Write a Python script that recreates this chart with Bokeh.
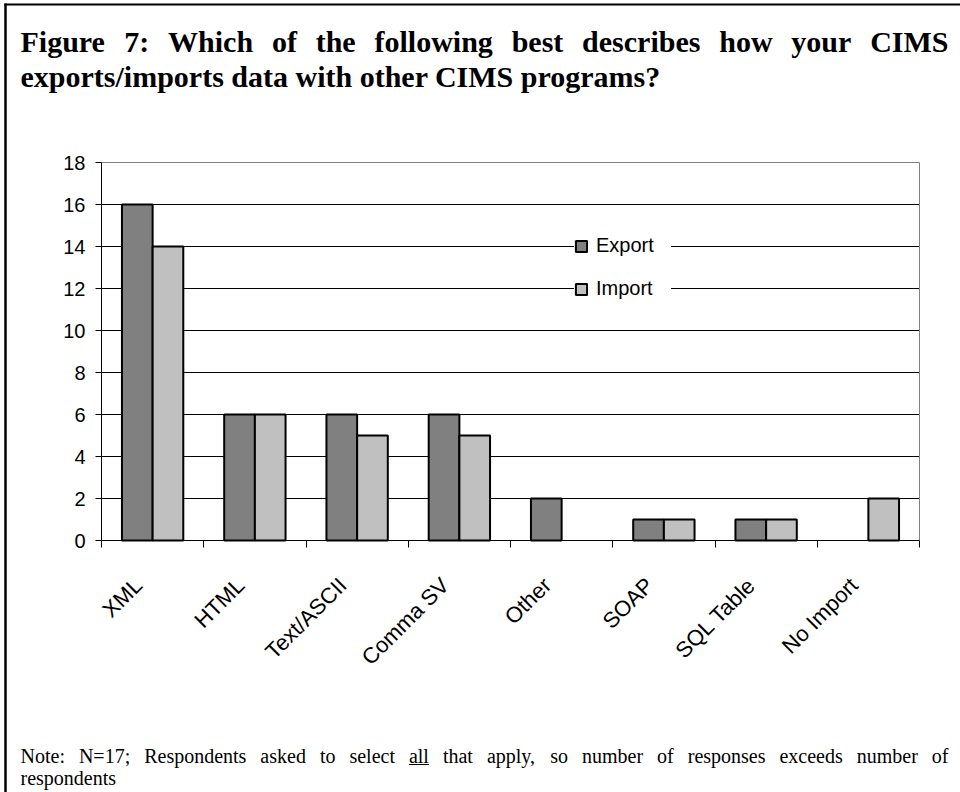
from math import pi

from bokeh.plotting import figure
from bokeh.models import (Range1d, FixedTicker, ColumnDataSource, LinearAxis,
                          CustomJSTickFormatter, CDSView, BooleanFilter)
from bokeh.core.properties import value
from bokeh.transform import dodge
from bokeh.embed import file_html
from bokeh.resources import INLINE

# ---- data -----------------------------------------------------------------
categories = ["XML", "HTML", "Text/ASCII", "Comma SV", "Other", "SOAP", "SQL Table", "No Import"]
export_counts = [16, 6, 6, 6, 2, 1, 1, 0]
import_counts = [14, 6, 5, 5, 0, 1, 1, 2]
y_ticks = [0, 2, 4, 6, 8, 10, 12, 14, 16, 18]
y_max = 18

title_lines = ["Figure 7: Which of the following best describes how your CIMS",
               "exports/imports data with other CIMS programs?"]
note_lines = ["Note: N=17; Respondents asked to select all that apply, so number of responses exceeds number of",
              "respondents"]

# ---- text metrics (Times, units per 1000 em) for justified lines ----------
TIMES_BOLD = dict(zip("abcdefghijklmnopqrstuvwxyz",
                      [500, 556, 444, 556, 444, 333, 500, 556, 278, 333, 556, 278, 833,
                       556, 500, 556, 556, 444, 389, 333, 556, 500, 722, 500, 500, 444]))
TIMES_BOLD.update({"C": 722, "F": 611, "I": 389, "M": 944, "S": 556, "W": 1000, "N": 722,
                   "R": 722, ":": 333, ";": 333, "?": 500, "/": 278, ",": 250, "=": 570, " ": 250})
TIMES_BOLD.update({d: 500 for d in "0123456789"})

TIMES_ROMAN = dict(zip("abcdefghijklmnopqrstuvwxyz",
                       [444, 500, 444, 500, 444, 333, 500, 500, 278, 278, 500, 278, 778,
                        500, 500, 500, 500, 333, 389, 278, 500, 500, 722, 500, 500, 444]))
TIMES_ROMAN.update({"N": 722, "R": 667, ":": 278, ";": 278, ",": 250, "=": 564, " ": 250})
TIMES_ROMAN.update({d: 500 for d in "0123456789"})


def word_width(word, table, size):
    return sum(table.get(ch, 500) for ch in word) * size / 1000.0


def justified_positions(line, table, size, x0, x1):
    words = line.split(" ")
    widths = [word_width(w, table, size) for w in words]
    gap = (x1 - x0 - sum(widths)) / (len(words) - 1)
    xs, x = [], x0
    for w in widths:
        xs.append(x)
        x += w + gap
    return words, xs, widths


def anchor_y(baseline, size):
    """y to hand to the text glyph so the letters sit on the given baseline"""
    return baseline - 0.42 * size


# ---- page geometry (pixels, origin top-left) ------------------------------
PAGE_W, PAGE_H = 960, 792
PLOT_L, PLOT_R, PLOT_T, PLOT_B = 101, 919, 162, 540
LEFT_EDGE, RIGHT_EDGE = 20, 948
SANS = "Liberation Sans"
SERIF = "Liberation Serif"

n = len(categories)
px_per_cat = (PLOT_R - PLOT_L) / n
px_per_unit = (PLOT_B - PLOT_T) / y_max

# the page itself is the frame; the chart lives on its own pair of ranges
p = figure(width=PAGE_W, height=PAGE_H,
           x_range=Range1d(0, PAGE_W), y_range=Range1d(PAGE_H, 0),
           x_axis_type=None, y_axis_type=None,
           min_border=0, min_border_left=0, min_border_right=0,
           min_border_top=0, min_border_bottom=0,
           outline_line_color=None, background_fill_color="white", border_fill_color="white",
           toolbar_location=None, output_backend="svg")
p.extra_x_ranges = {"cat": Range1d(-PLOT_L / px_per_cat, n + (PAGE_W - PLOT_R) / px_per_cat)}
p.extra_y_ranges = {"val": Range1d(-(PAGE_H - PLOT_B) / px_per_unit, PLOT_B / px_per_unit)}
ON_CHART = dict(x_range_name="cat", y_range_name="val")

# ---- outer box (left and top edges) ---------------------------------------
p.line(x=[5, 5], y=[3, PAGE_H], line_color="black", line_width=2.5)
p.line(x=[4, PAGE_W], y=[4, 4], line_color="black", line_width=2)

# ---- title (first line justified) ----------------------------------------
TITLE_SIZE = 30
w1, xs1, _ = justified_positions(title_lines[0], TIMES_BOLD, TITLE_SIZE, LEFT_EDGE, RIGHT_EDGE)
p.text(x=xs1 + [LEFT_EDGE],
       y=[anchor_y(54, TITLE_SIZE)] * len(w1) + [anchor_y(89, TITLE_SIZE)],
       text=w1 + [title_lines[1]],
       text_font=value(SERIF), text_font_style="bold", text_font_size=f"{TITLE_SIZE}px",
       text_baseline="alphabetic", text_align="left", text_color="black")

# ---- note (first line justified, "all" underlined) -----------------------
NOTE_SIZE = 20
NOTE_B1, NOTE_B2 = 763.5, 785.5
nw, nxs, nwidths = justified_positions(note_lines[0], TIMES_ROMAN, NOTE_SIZE, LEFT_EDGE, RIGHT_EDGE)
p.text(x=nxs + [LEFT_EDGE],
       y=[anchor_y(NOTE_B1, NOTE_SIZE)] * len(nw) + [anchor_y(NOTE_B2, NOTE_SIZE)],
       text=nw + [note_lines[1]],
       text_font=value(SERIF), text_font_size=f"{NOTE_SIZE}px",
       text_baseline="alphabetic", text_align="left", text_color="black")
k = nw.index("all")
p.line(x=[nxs[k], nxs[k] + nwidths[k]], y=[NOTE_B1 + 0.5] * 2, line_color="black", line_width=1)

# ---- chart: plot area, gridlines, bars ------------------------------------
grid_vals = y_ticks[1:-1]
p.segment(x0=[0] * len(grid_vals), x1=[n] * len(grid_vals), y0=grid_vals, y1=grid_vals,
          line_color="black", line_width=1, **ON_CHART)
p.quad(left=[0], right=[n], bottom=[0], top=[y_max], fill_color=None,
       line_color="#808080", line_width=1, **ON_CHART)

centers = [i + 0.5 for i in range(n)]
src = ColumnDataSource(dict(x=centers, export=export_counts, imp=import_counts))
p.vbar(x=dodge("x", -0.15), top="export", bottom=0, width=0.3, source=src,
       view=CDSView(filter=BooleanFilter([v > 0 for v in export_counts])),
       fill_color="#808080", line_color="black", line_width=2, legend_label="Export", **ON_CHART)
p.vbar(x=dodge("x", 0.15), top="imp", bottom=0, width=0.3, source=src,
       view=CDSView(filter=BooleanFilter([v > 0 for v in import_counts])),
       fill_color="#c0c0c0", line_color="black", line_width=2, legend_label="Import", **ON_CHART)

# ---- axes pinned to the plot area -----------------------------------------
yaxis = LinearAxis(y_range_name="val", fixed_location=PLOT_L, bounds=(0, y_max),
                   ticker=FixedTicker(ticks=y_ticks, minor_ticks=[]),
                   axis_line_color="black", major_tick_line_color="black",
                   major_tick_in=0, major_tick_out=6, minor_tick_line_color=None,
                   major_label_standoff=10, major_label_text_color="black",
                   major_label_text_font=SANS, major_label_text_font_size="20px")
p.add_layout(yaxis, "left")

label_ticks = [c - 0.14 for c in centers]
xaxis = LinearAxis(x_range_name="cat", fixed_location=PLOT_B, bounds=(0, n),
                   ticker=FixedTicker(ticks=label_ticks, minor_ticks=list(range(n + 1))),
                   formatter=CustomJSTickFormatter(args=dict(names=categories),
                                                   code="return names[Math.floor(tick)] || '';"),
                   axis_line_color="black", major_tick_line_color=None,
                   major_tick_in=0, major_tick_out=0,
                   minor_tick_line_color="black", minor_tick_in=0, minor_tick_out=7,
                   major_label_orientation=pi / 4, major_label_standoff=34,
                   major_label_text_color="black",
                   major_label_text_font=SANS, major_label_text_font_size="22px")
p.add_layout(xaxis, "below")

# ---- legend ---------------------------------------------------------------
lg = p.legend[0]
lg.location = (574, PAGE_H - 300)
lg.background_fill_color = "white"
lg.background_fill_alpha = 1.0
lg.border_line_color = None
lg.padding = 9
lg.margin = 0
lg.spacing = 20
lg.glyph_width = 14
lg.glyph_height = 14
lg.label_height = 21
lg.label_width = 75
lg.label_standoff = 8
lg.label_text_font = SANS
lg.label_text_font_size = "20px"
lg.label_text_color = "black"

with open("out.html", "w") as f:
    f.write(file_html(p, INLINE))
